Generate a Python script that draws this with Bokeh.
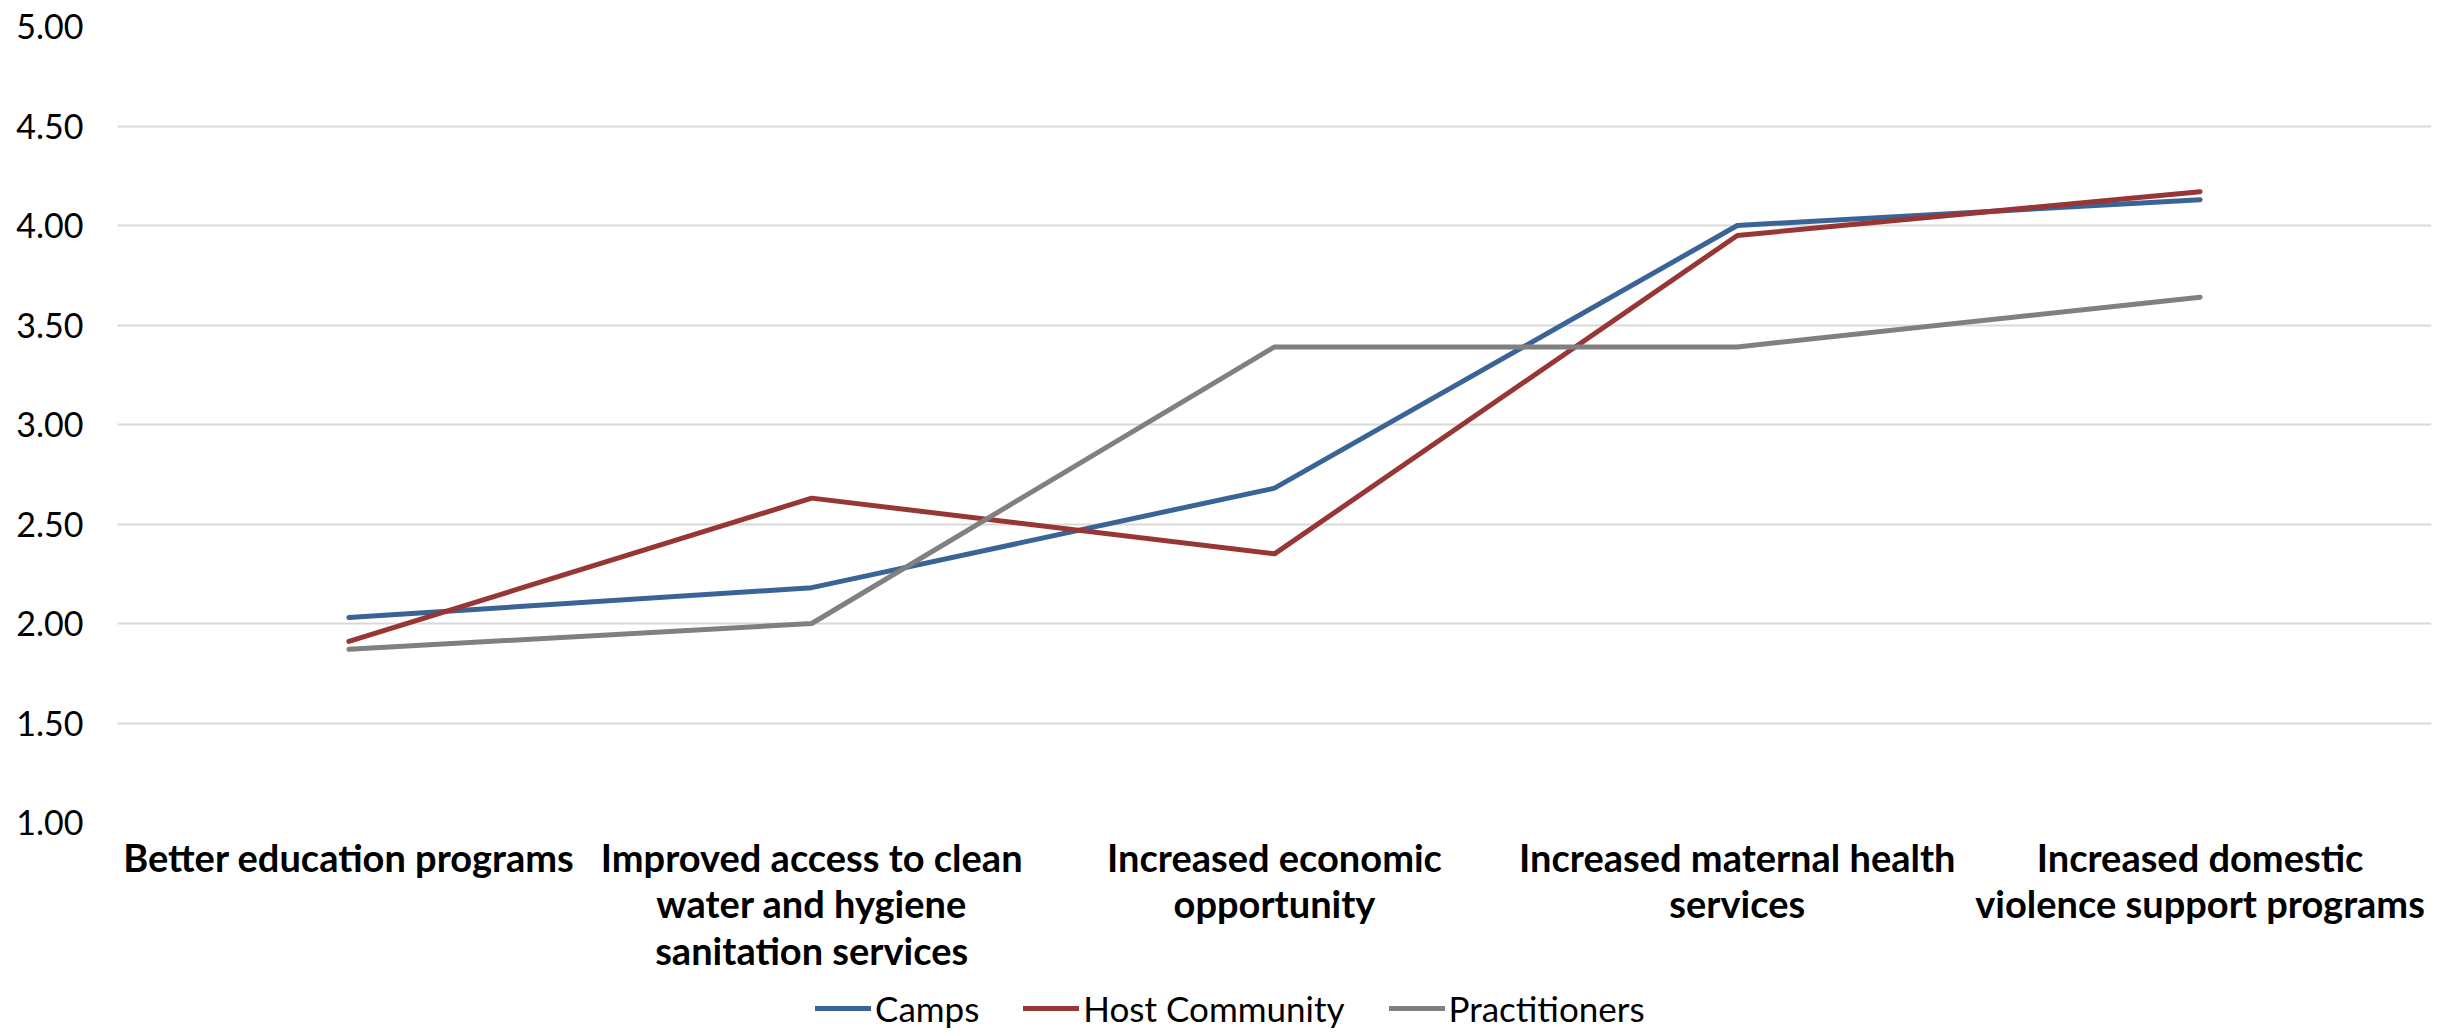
from bokeh.plotting import figure
from bokeh.models import Legend, LegendItem, FixedTicker, ColumnDataSource
from bokeh.layouts import column
from bokeh.embed import file_html
from bokeh.resources import INLINE

categories = [
    "Better education programs",
    "Improved access to clean\nwater and hygiene\nsanitation services",
    "Increased economic\nopportunity",
    "Increased maternal health\nservices",
    "Increased domestic\nviolence support programs",
]
camps = [2.03, 2.18, 2.68, 4.00, 4.13]
host_community = [1.91, 2.63, 2.35, 3.95, 4.17]
practitioners = [1.87, 2.00, 3.39, 3.39, 3.64]
series_names = ["Camps", "Host Community", "Practitioners"]
colors = ["#3A6496", "#973634", "#808080"]
y_ticks = [1.0, 1.5, 2.0, 2.5, 3.0, 3.5, 4.0, 4.5, 5.0]

FONT = "Lato"

p = figure(x_range=categories, y_range=(1.0, 5.0), width=2446, height=976,
           output_backend="svg", toolbar_location=None,
           min_border_left=117, min_border_right=15, min_border_top=26,
           min_border_bottom=150)
p.outline_line_color = None
p.background_fill_color = "white"
p.border_fill_color = "white"

for vals, c in zip([camps, host_community, practitioners], colors):
    p.line(categories, vals, line_color=c, line_width=5, line_join="round",
           line_cap="round")

p.xgrid.grid_line_color = None
p.ygrid.grid_line_color = "#D9D9D9"
p.ygrid.grid_line_width = 2

p.yaxis.ticker = FixedTicker(ticks=y_ticks)
p.yaxis.major_label_overrides = {t: f"{t:.2f}" for t in y_ticks}
p.yaxis.axis_line_color = None
p.yaxis.major_tick_line_color = None
p.yaxis.minor_tick_line_color = None
p.yaxis.major_label_text_font = FONT
p.yaxis.major_label_text_font_size = "34px"
p.yaxis.major_label_text_color = "black"
p.yaxis.major_label_standoff = 28

p.xaxis.axis_line_color = None
p.xaxis.major_tick_line_color = None
p.xaxis.major_label_text_font = FONT
p.xaxis.major_label_text_font_style = "bold"
p.xaxis.major_label_text_font_size = "38px"
p.xaxis.major_label_text_color = "black"
p.xaxis.major_label_standoff = 5
p.xaxis.major_label_text_line_height = 1.02

# legend strip below the chart (frame aligned with the chart's frame)
lf = figure(width=2446, height=60, output_backend="svg", toolbar_location=None,
            x_axis_type=None, y_axis_type=None, x_range=(0, 1), y_range=(0, 1),
            min_border_left=117, min_border_right=15, min_border_top=0, min_border_bottom=0)
lf.outline_line_color = None
lf.grid.grid_line_color = None
legend_renderers = []
for c in colors:
    src = ColumnDataSource(data=dict(x=[float("nan")], y=[float("nan")]))
    legend_renderers.append(lf.line("x", "y", source=src, line_color=c, line_width=5,
                                    line_cap="round"))

legend = Legend(items=[LegendItem(label=n, renderers=[r]) for n, r in zip(series_names, legend_renderers)],
                orientation="horizontal", location=(698, 7))
legend.border_line_color = None
legend.background_fill_alpha = 0
legend.padding = 0
legend.margin = 0
legend.spacing = 44
legend.label_standoff = 4
legend.glyph_width = 56
legend.glyph_height = 30
legend.label_height = 30
legend.label_text_font = FONT
legend.label_text_font_size = "35px"
legend.label_text_color = "black"
lf.add_layout(legend, "center")

layout = column(p, lf, spacing=0)
open("out.html", "w").write(file_html(layout, INLINE))
